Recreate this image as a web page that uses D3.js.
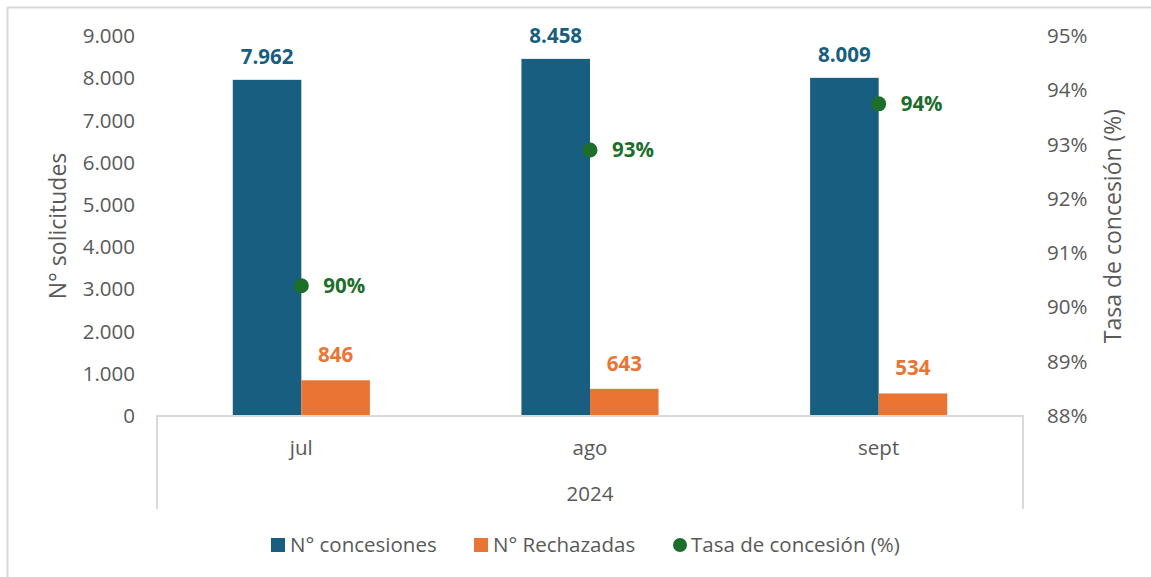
<!DOCTYPE html>
<html>
<head>
<meta charset="utf-8">
<script src="https://cdn.jsdelivr.net/npm/d3@7"></script>
<style>
    body { margin: 0; background: #fff; }
    svg text { font-family: "Open Sans", "Noto Sans", sans-serif; }
</style>
</head>
<body>
<div id="chart"></div>
<script>
// Data
const months = ['jul', 'ago', 'sept'];
const year = '2024';
const concesiones = [7962, 8458, 8009];
const rechazadas = [846, 643, 534];
const tasa = [0.904, 0.929, 0.9375];
const leftTicks = [0, 1000, 2000, 3000, 4000, 5000, 6000, 7000, 8000, 9000];
const rightTicks = [0.88, 0.89, 0.90, 0.91, 0.92, 0.93, 0.94, 0.95];

const colors = {
    concesiones: '#175e80',
    rechazadas: '#ea7434',
    tasa: '#1d6e2b',
    text: '#595959',
    line: '#d9d9d9'
};

const width = 1151, height = 577;
const plot = { left: 157, right: 1023, top: 36, bottom: 416 };
const fs = '20.5px';

const svg = d3.select('#chart')
    .append('svg')
    .attr('width', width)
    .attr('height', height);

// Chart border
svg.append('rect')
    .attr('x', 7.5).attr('y', 7.5)
    .attr('width', width + 10).attr('height', height + 10)
    .attr('fill', 'none')
    .attr('stroke', colors.line)
    .attr('stroke-width', 2);

const x = d3.scaleBand()
    .domain(months)
    .range([plot.left, plot.right]);

const y = d3.scaleLinear()
    .domain([0, 9000])
    .range([plot.bottom, plot.top]);

const y2 = d3.scaleLinear()
    .domain([0.88, 0.95])
    .range([plot.bottom, plot.top]);

const fmtThousands = d3.formatLocale({ decimal: ',', thousands: '.', grouping: [3], currency: ['', '€'] }).format(',');
const barW = x.bandwidth() * 0.2375;

// Left axis
const leftAxis = svg.append('g')
    .attr('transform', `translate(${plot.left - 22},0)`)
    .call(d3.axisLeft(y).tickValues(leftTicks).tickSize(0).tickPadding(0).tickFormat(fmtThousands));
leftAxis.select('.domain').remove();
leftAxis.selectAll('text')
    .style('font-size', fs)
    .attr('fill', colors.text);

// Right axis
const rightAxis = svg.append('g')
    .attr('transform', `translate(${plot.right + 24},0)`)
    .call(d3.axisRight(y2).tickValues(rightTicks).tickSize(0).tickPadding(0).tickFormat(d3.format('.0%')));
rightAxis.select('.domain').remove();
rightAxis.selectAll('text')
    .style('font-size', fs)
    .attr('fill', colors.text);

// Axis titles
svg.append('text')
    .attr('transform', `translate(66,${(plot.top + plot.bottom) / 2}) rotate(-90)`)
    .attr('text-anchor', 'middle')
    .style('font-size', '23px')
    .attr('fill', colors.text)
    .text('N° solicitudes');

svg.append('text')
    .attr('transform', `translate(1121,${(plot.top + plot.bottom) / 2}) rotate(-90)`)
    .attr('text-anchor', 'middle')
    .style('font-size', '23px')
    .attr('fill', colors.text)
    .text('Tasa de concesión (%)');

// Bars
const groups = svg.selectAll('g.month')
    .data(months)
    .join('g')
    .attr('class', 'month');

groups.append('rect')
    .attr('x', d => x(d) + x.bandwidth() / 2 - barW)
    .attr('y', (d, i) => y(concesiones[i]))
    .attr('width', barW)
    .attr('height', (d, i) => y(0) - y(concesiones[i]))
    .attr('fill', colors.concesiones);

groups.append('rect')
    .attr('x', d => x(d) + x.bandwidth() / 2)
    .attr('y', (d, i) => y(rechazadas[i]))
    .attr('width', barW)
    .attr('height', (d, i) => y(0) - y(rechazadas[i]))
    .attr('fill', colors.rechazadas);

// Bar labels
groups.append('text')
    .attr('x', d => x(d) + x.bandwidth() / 2 - barW / 2)
    .attr('y', (d, i) => y(concesiones[i]) - 16)
    .attr('text-anchor', 'middle')
    .style('font-size', fs)
    .style('font-weight', 'bold')
    .attr('fill', colors.concesiones)
    .text((d, i) => fmtThousands(concesiones[i]));

groups.append('text')
    .attr('x', d => x(d) + x.bandwidth() / 2 + barW / 2)
    .attr('y', (d, i) => y(rechazadas[i]) - 18)
    .attr('text-anchor', 'middle')
    .style('font-size', fs)
    .style('font-weight', 'bold')
    .attr('fill', colors.rechazadas)
    .text((d, i) => rechazadas[i]);

// Rate markers
groups.append('circle')
    .attr('cx', d => x(d) + x.bandwidth() / 2)
    .attr('cy', (d, i) => y2(tasa[i]))
    .attr('r', 7.5)
    .attr('fill', colors.tasa);

groups.append('text')
    .attr('x', d => x(d) + x.bandwidth() / 2 + 22)
    .attr('y', (d, i) => y2(tasa[i]))
    .attr('dy', '0.35em')
    .style('font-size', fs)
    .style('font-weight', 'bold')
    .attr('fill', colors.tasa)
    .text((d, i) => d3.format('.0%')(tasa[i]));

// Category axis box
const axisBottom = 509;
svg.append('path')
    .attr('d', `M${plot.left},${axisBottom}V${plot.bottom}H${plot.right}V${axisBottom}`)
    .attr('fill', 'none')
    .attr('stroke', colors.line)
    .attr('stroke-width', 2);

groups.append('text')
    .attr('x', d => x(d) + x.bandwidth() / 2)
    .attr('y', 448)
    .attr('dy', '0.35em')
    .attr('text-anchor', 'middle')
    .style('font-size', fs)
    .attr('fill', colors.text)
    .text(d => d);

svg.append('text')
    .attr('x', (plot.left + plot.right) / 2)
    .attr('y', 494)
    .attr('dy', '0.35em')
    .attr('text-anchor', 'middle')
    .style('font-size', fs)
    .attr('fill', colors.text)
    .text(year);

// Legend
const legendItems = [
    { label: 'N° concesiones', color: colors.concesiones, shape: 'rect', x: 271 },
    { label: 'N° Rechazadas', color: colors.rechazadas, shape: 'rect', x: 474 },
    { label: 'Tasa de concesión (%)', color: colors.tasa, shape: 'circle', x: 672 }
];
const legend = svg.selectAll('g.legend')
    .data(legendItems)
    .join('g')
    .attr('class', 'legend')
    .attr('transform', d => `translate(${d.x},545)`);

legend.filter(d => d.shape === 'rect')
    .append('rect')
    .attr('x', 0).attr('y', -7)
    .attr('width', 14).attr('height', 14)
    .attr('fill', d => d.color);

legend.filter(d => d.shape === 'circle')
    .append('circle')
    .attr('cx', 8).attr('cy', 0)
    .attr('r', 7)
    .attr('fill', d => d.color);

legend.append('text')
    .attr('x', 19)
    .attr('dy', '0.35em')
    .style('font-size', fs)
    .attr('fill', colors.text)
    .text(d => d.label);
</script>
</body>
</html>
